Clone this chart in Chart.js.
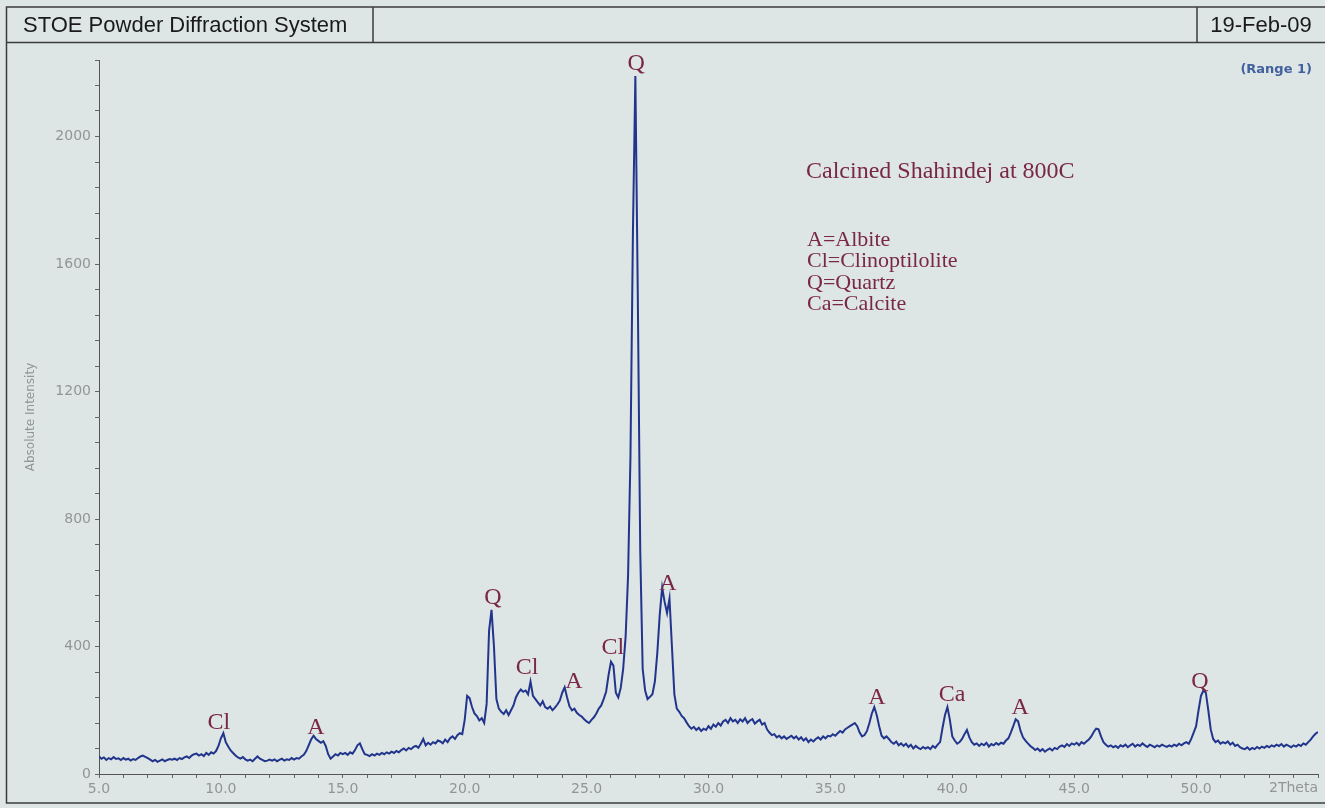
<!DOCTYPE html>
<html>
<head>
<meta charset="utf-8">
<title>STOE Powder Diffraction System</title>
<script src="https://cdn.jsdelivr.net/npm/chart.js@4.4.0/dist/chart.umd.min.js"></script>
<style>
  html, body { margin: 0; padding: 0; background: #dde5e5; }
  canvas { display: block; }
</style>
</head>
<body>
<canvas id="xrdChart" width="1325" height="808"></canvas>
<script>
// scan: 2theta from 5.0 to 55.0 in 0.1 deg steps
const twoThetaStart = 5.0;
const twoThetaStep = 0.1;
const intensity = [
  55, 48, 52, 44, 50, 46, 53, 47, 49, 44,          // 5
  50, 45, 48, 42, 47, 44, 50, 55, 58, 54,          // 6
  50, 45, 40, 44, 38, 42, 46, 40, 44, 47,          // 7
  45, 48, 44, 50, 47, 52, 55, 50, 58, 62,          // 8
  64, 58, 62, 56, 66, 60, 68, 64, 72, 88,          // 9
  112, 128, 100, 86, 74, 66, 58, 52, 48, 53,       // 10
  46, 42, 45, 40, 48, 55, 48, 44, 40, 42,          // 11
  45, 42, 46, 40, 44, 48, 42, 46, 44, 50,          // 12
  45, 50, 48, 55, 60, 72, 90, 108, 120, 110,       // 13
  104, 98, 103, 88, 62, 48, 55, 62, 58, 66,        // 14
  62, 66, 60, 68, 64, 75, 90, 96, 78, 62,          // 15
  60, 56, 62, 58, 64, 60, 66, 62, 68, 64,          // 16
  70, 66, 72, 68, 75, 80, 74, 82, 78, 85,          // 17
  88, 82, 95, 110, 90, 98, 92, 100, 96, 105,       // 18
  102, 96, 108, 100, 112, 118, 110, 122, 128, 125, // 19
  170, 245, 238, 210, 190, 182, 168, 175, 160, 220, // 20
  450, 515, 400, 235, 205, 195, 188, 200, 185, 200, // 21
  215, 240, 255, 265, 258, 262, 250, 290, 245, 235, // 22
  225, 215, 228, 210, 205, 212, 200, 208, 218, 230, // 23
  255, 272, 240, 212, 200, 205, 192, 185, 180, 172, // 24
  165, 160, 170, 178, 190, 205, 215, 235, 258, 310, // 25
  352, 340, 255, 240, 270, 330, 430, 620, 1000, 1700, // 26
  2190, 1500, 700, 330, 262, 235, 242, 250, 290, 380, // 27
  500, 585, 540, 505, 550, 400, 250, 205, 195, 182, // 28
  175, 162, 150, 142, 148, 138, 145, 135, 142, 138, // 29
  150, 142, 155, 148, 160, 152, 165, 170, 160, 175, // 30
  165, 170, 160, 172, 165, 175, 160, 168, 172, 158, // 31
  165, 170, 155, 160, 140, 130, 122, 125, 115, 120, // 32
  112, 118, 110, 115, 120, 112, 118, 108, 115, 105, // 33
  112, 100, 108, 102, 110, 115, 108, 118, 112, 120, // 34
  118, 125, 120, 128, 135, 130, 140, 145, 150, 155, // 35
  160, 150, 130, 118, 122, 135, 160, 190, 210, 185, // 36
  150, 120, 112, 118, 110, 100, 95, 102, 90, 96,   // 37
  88, 95, 85, 92, 80, 88, 82, 78, 85, 80,          // 38
  84, 78, 88, 82, 92, 100, 145, 185, 210, 170,     // 39
  118, 105, 95, 100, 110, 125, 138, 115, 100, 92,  // 40
  96, 88, 95, 90, 98, 86, 94, 90, 97, 92,          // 41
  98, 95, 105, 112, 130, 150, 172, 165, 135, 115,  // 42
  105, 96, 88, 82, 75, 80, 72, 78, 70, 76,         // 43
  80, 74, 82, 78, 86, 90, 85, 94, 88, 96,          // 44
  92, 98, 90, 100, 95, 102, 108, 118, 132, 142,    // 45
  140, 118, 100, 92, 86, 90, 84, 88, 82, 90,       // 46
  86, 92, 84, 90, 95, 86, 92, 88, 96, 90,          // 47
  85, 92, 88, 84, 90, 86, 92, 88, 85, 90,          // 48
  86, 92, 88, 95, 90, 96, 100, 95, 110, 130,       // 49
  150, 200, 245, 262, 255, 200, 140, 110, 100, 105, // 50
  95, 100, 96, 102, 92, 98, 88, 92, 84, 80,        // 51
  78, 84, 76, 82, 78, 85, 80, 86, 82, 88,          // 52
  84, 90, 86, 92, 88, 94, 86, 92, 88, 84,          // 53
  90, 86, 92, 88, 96, 92, 100, 108, 118, 126,      // 54
  132                                              // 55
];

// phase marks above the peaks
const peakNames = ['Cl', 'A', 'Q', 'Cl', 'A', 'Cl', 'Q', 'A', 'A', 'Ca', 'A', 'Q'];
const peakTheta = [9.92, 13.9, 21.16, 22.56, 24.48, 26.08, 27.03, 28.34, 36.91, 39.99, 42.78, 50.16];
const peakLabelY = [160, 144, 552, 332, 288, 395, 2229, 596, 238, 248, 207, 288];

const sampleTitle = 'Calcined Shahindej at 800C';
const phaseKey = ['A=Albite', 'Cl=Clinoptilolite', 'Q=Quartz', 'Ca=Calcite'];

const xMin = 5, xMax = 55, xMinorStep = 1, xLabelEvery = 5;
const yMin = 0, yMax = 2240, yMinorStep = 80, yLabelEvery = 400;

const points = intensity.map((v, i) => ({ x: +(twoThetaStart + i * twoThetaStep).toFixed(1), y: v }));

const maroon = '#7a2746';
const grey = '#939595';
const axisFont = '"DejaVu Sans", Verdana, sans-serif';

const stoePage = {
  id: 'stoePage',
  beforeDraw(chart) {
    const c = chart.ctx;
    c.save();
    c.fillStyle = '#dde5e5';
    c.fillRect(0, 0, chart.width, chart.height);
    c.strokeStyle = '#3c3c3c';
    c.lineWidth = 1.5;
    c.strokeRect(6.5, 7, chart.width + 10, 796);
    c.beginPath();
    c.moveTo(6.5, 42.5); c.lineTo(chart.width, 42.5);
    c.moveTo(373, 7); c.lineTo(373, 42.5);
    c.moveTo(1197, 7); c.lineTo(1197, 42.5);
    c.stroke();
    c.fillStyle = '#1a1a1a';
    c.font = '22px "Liberation Sans", Arial, sans-serif';
    c.textBaseline = 'middle';
    c.textAlign = 'left';
    c.fillText('STOE Powder Diffraction System', 23, 26);
    c.textAlign = 'center';
    c.fillText('19-Feb-09', 1261, 26);
    c.restore();
  },
  afterDraw(chart) {
    const c = chart.ctx;
    const xs = chart.scales.x, ys = chart.scales.y;
    c.save();
    c.textBaseline = 'middle';
    // range tag
    c.fillStyle = '#41609e';
    c.font = 'bold 13px ' + axisFont;
    c.textAlign = 'right';
    c.fillText('(Range 1)', 1312, 70);
    // x axis title sits where the last tick label would be
    c.fillStyle = grey;
    c.font = '14px ' + axisFont;
    c.fillText('2Theta', xs.getPixelForValue(xMax), 788);
    // phase marks
    c.fillStyle = maroon;
    c.font = '24px "Liberation Serif", "Times New Roman", serif';
    c.textAlign = 'center';
    peakNames.forEach((name, i) => {
      c.fillText(name, xs.getPixelForValue(peakTheta[i]), ys.getPixelForValue(peakLabelY[i]));
    });
    // sample note and key
    c.textAlign = 'left';
    c.fillText(sampleTitle, 806, 172);
    c.font = '22px "Liberation Serif", "Times New Roman", serif';
    phaseKey.forEach((t, i) => c.fillText(t, 807, 240 + i * 21.5));
    c.restore();
  }
};

const ctx = document.getElementById('xrdChart').getContext('2d');
const xrdChart = new Chart(ctx, {
  type: 'scatter',
  data: {
    datasets: [{
      label: 'Intensity',
      data: points,
      showLine: true,
      borderColor: '#22358c',
      borderWidth: 2,
      pointRadius: 0,
      tension: 0
    }]
  },
  options: {
    responsive: false,
    animation: false,
    devicePixelRatio: 1,
    layout: { padding: { left: 0, top: 60, right: 7, bottom: 0 } },
    plugins: { legend: { display: false }, tooltip: { enabled: false } },
    scales: {
      x: {
        type: 'linear',
        min: xMin,
        max: xMax,
        afterFit(scale) { scale.height = 34; },
        border: { display: true, color: '#555', width: 1 },
        grid: { display: true, drawOnChartArea: false, drawTicks: true, tickLength: 4, color: '#666' },
        ticks: {
          stepSize: xMinorStep,
          autoSkip: false,
          maxRotation: 0,
          padding: 3,
          color: grey,
          font: { family: axisFont, size: 14 },
          callback: v => (v % xLabelEvery === 0 && v !== xMax) ? v.toFixed(1) : ''
        }
      },
      y: {
        type: 'linear',
        min: yMin,
        max: yMax,
        afterFit(scale) { scale.width = 99; },
        border: { display: true, color: '#555', width: 1 },
        grid: { display: true, drawOnChartArea: false, drawTicks: true, tickLength: 4, color: '#666' },
        ticks: {
          stepSize: yMinorStep,
          autoSkip: false,
          padding: 4,
          color: grey,
          font: { family: axisFont, size: 14 },
          callback: v => (v % yLabelEvery === 0) ? String(v) : ''
        },
        title: {
          display: true,
          text: 'Absolute Intensity',
          color: grey,
          font: { family: axisFont, size: 12 },
          padding: { top: 24, bottom: 0 }
        }
      }
    }
  },
  plugins: [stoePage]
});
</script>
</body>
</html>
